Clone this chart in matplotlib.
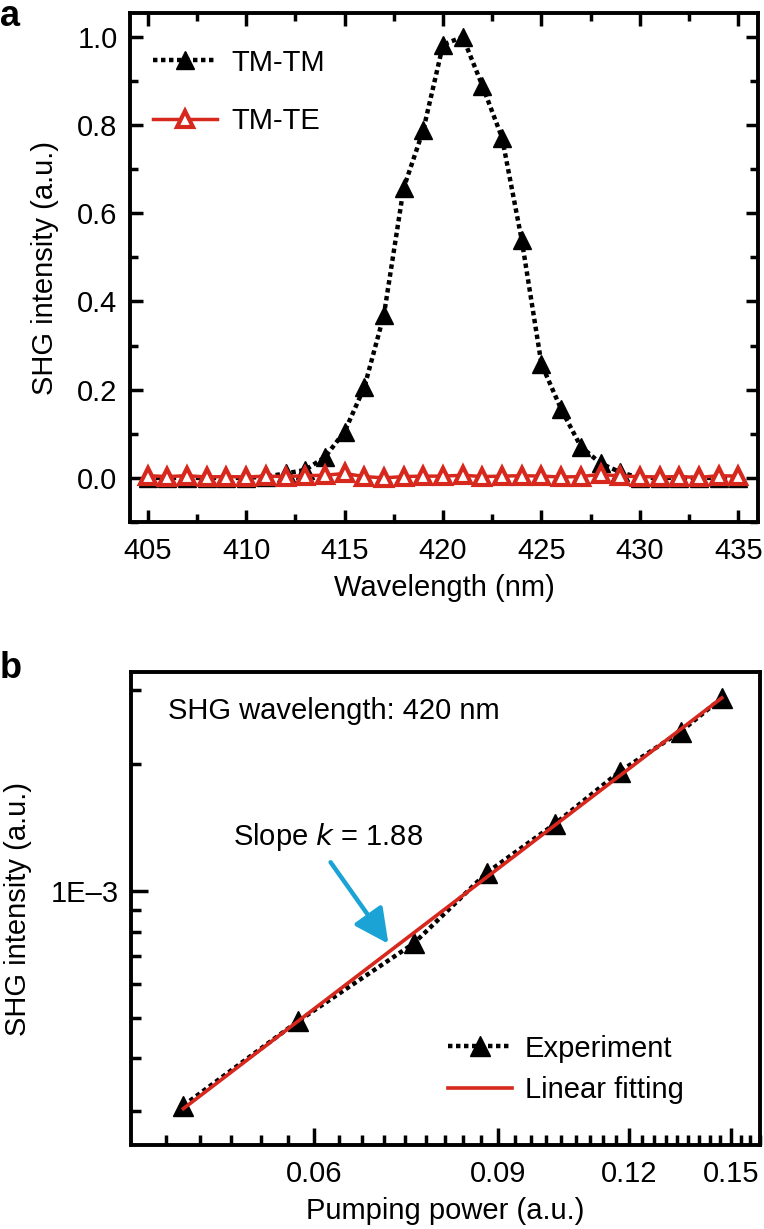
import numpy as np
import matplotlib
matplotlib.use("Agg")
import matplotlib.pyplot as plt
from matplotlib.ticker import FixedLocator, NullFormatter, FixedFormatter

plt.rcParams['font.family'] = ['Liberation Sans', 'DejaVu Sans']
plt.rcParams['font.size'] = 21

# panel a: SHG spectrum
wavelength = list(range(405, 436))
tm_tm = [0.0, 0.0, 0.0, 0.0, 0.0, 0.0, 0.003, 0.01, 0.018, 0.047, 0.105,
         0.205, 0.37, 0.657, 0.789, 0.982, 1.0, 0.889, 0.771, 0.539, 0.258,
         0.156, 0.071, 0.033, 0.013, 0.0, 0.0, 0.0, 0.0, 0.0, 0.0]
tm_te = [0.005, 0.003, 0.005, 0.002, 0.003, 0.002, 0.004, 0.003, 0.005,
         0.006, 0.01, 0.003, 0.0, 0.003, 0.004, 0.004, 0.006, 0.003, 0.004,
         0.005, 0.004, 0.002, 0.003, 0.008, 0.004, 0.003, 0.002, 0.003,
         0.001, 0.005, 0.004]

# panel b: power dependence
power = [0.0450, 0.0579, 0.0747, 0.0877, 0.1019, 0.1175, 0.1344, 0.1471]
shg = [3.09e-4, 4.90e-4, 7.50e-4, 1.104e-3, 1.442e-3, 1.92e-3, 2.39e-3, 2.87e-3]

RED = '#d7281e'
CYAN = '#1ba3d6'

fig = plt.figure(figsize=(7.64, 12.29), dpi=100)

def style_frame(ax):
    for s in ax.spines.values():
        s.set_linewidth(2.8)

# ---------------- panel a
ax1 = fig.add_axes([130/764, 1-522/1229, (758-130)/764, (522-13)/1229])
ax1.plot(wavelength, tm_tm, color='black', ls=(0, (1, 0.8)), lw=3.2,
         marker='^', ms=13, mfc='black', mec='black', label='TM-TM')
ax1.plot(wavelength, tm_te, color=RED, ls='-', lw=2.5,
         marker='^', ms=12, mfc='white', mec=RED, mew=3, label='TM-TE')
ax1.set_xlim(404.1, 436)
ax1.set_ylim(-0.09, 1.054)
ax1.set_xticks(np.arange(405, 436, 5))
ax1.set_xticks(np.arange(405, 436, 2.5), minor=True)
ax1.set_yticks(np.arange(0, 1.01, 0.2))
ax1.set_yticks(np.arange(-0.1, 1.05, 0.1), minor=True)
ax1.tick_params(which='both', direction='in', top=True, right=True, width=2.5)
ax1.tick_params(which='major', length=9)
ax1.tick_params(which='minor', length=6)
ax1.tick_params(axis='x', pad=11)
ax1.tick_params(axis='y', pad=9)
ax1.set_xlabel('Wavelength (nm)', labelpad=6.5)
ax1.set_ylabel('SHG intensity (a.u.)', labelpad=13)
style_frame(ax1)
ax1.legend(loc='upper left', bbox_to_anchor=(0.0175, 0.953), borderaxespad=0,
           frameon=False, handlelength=2.2, handletextpad=0.5,
           labelspacing=1.05, numpoints=1)

# ---------------- panel b
ax2 = fig.add_axes([131/764, 1-1145/1229, (760-131)/764, (1145-672)/1229])
ax2.set_xscale('log')
ax2.set_yscale('log')
ax2.plot(power, shg, color='black', ls=(0, (1, 0.8)), lw=3.2,
         marker='^', ms=14, mfc='black', mec='black', label='Experiment')
k, b = np.polyfit(np.log10(power), np.log10(shg), 1)
xf = np.array([power[0], power[-1]])
ax2.plot(xf, 10**(k*np.log10(xf) + b), color=RED, lw=2.6, label='Linear fitting')
ax2.set_xlim(0.0401, 0.160)
ax2.set_ylim(2.49e-4, 3.31e-3)

xmaj = [0.06, 0.09, 0.12, 0.15]
xmin = [v for v in np.arange(0.04, 0.1601, 0.03/9) if all(abs(v-m) > 1e-6 for m in xmaj)]
ax2.xaxis.set_major_locator(FixedLocator(xmaj))
ax2.xaxis.set_major_formatter(FixedFormatter(['0.06', '0.09', '0.12', '0.15']))
ax2.xaxis.set_minor_locator(FixedLocator(xmin))
ax2.xaxis.set_minor_formatter(NullFormatter())
ax2.yaxis.set_major_locator(FixedLocator([1e-3]))
ax2.yaxis.set_major_formatter(FixedFormatter(['1E\u20133']))
ax2.yaxis.set_minor_locator(FixedLocator([3e-4, 4e-4, 5e-4, 6e-4, 7e-4, 8e-4, 9e-4, 2e-3, 3e-3]))
ax2.yaxis.set_minor_formatter(NullFormatter())
ax2.tick_params(which='both', direction='in', width=2.5)
ax2.tick_params(which='major', length=12)
ax2.tick_params(which='minor', length=7)
ax2.tick_params(axis='x', pad=11)
ax2.tick_params(axis='y', pad=9)
ax2.set_xlabel('Pumping power (a.u.)', labelpad=6.5)
ax2.set_ylabel('SHG intensity (a.u.)', labelpad=13)
style_frame(ax2)

ax2.text(168/764, 1-711/1229, 'SHG wavelength: 420 nm', transform=fig.transFigure,
         ha='left', va='center')
ax2.text(233/764, 1-837/1229, 'Slope $\\it{k}$ = 1.88', transform=fig.transFigure,
         ha='left', va='center')
ax2.annotate('', xy=(390/764, 1-946/1229), xytext=(329/764, 1-860/1229),
             xycoords='figure fraction', textcoords='figure fraction',
             arrowprops=dict(arrowstyle='-|>,head_length=1.0,head_width=0.5',
                             color=CYAN, lw=3.2))
ax2.legend(loc='upper left', bbox_to_anchor=(0.485, 0.258), borderaxespad=0,
           frameon=False, handlelength=2.2, handletextpad=0.45,
           labelspacing=0.45, numpoints=1)

fig.text(0.0, 1-16/1229, 'a', fontsize=26, fontweight='bold', va='center', ha='left')
fig.text(0.0, 1-668/1229, 'b', fontsize=26, fontweight='bold', va='center', ha='left')

fig.savefig('out.png', dpi=100)
